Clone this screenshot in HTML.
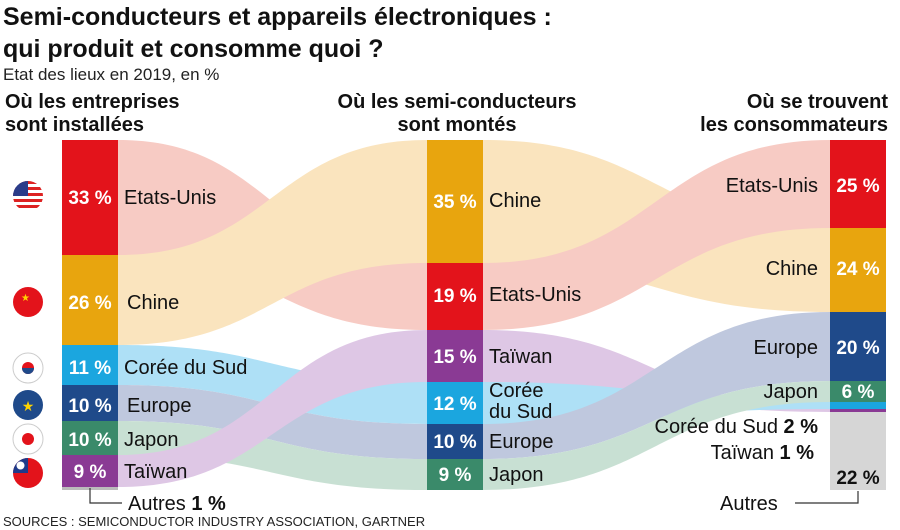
<!DOCTYPE html>
<html><head><meta charset="utf-8">
<style>
body{margin:0;background:#fff;}
svg{display:block;font-family:"Liberation Sans","DejaVu Sans",sans-serif;}
.t{font-weight:bold;font-size:25px;fill:#111;}
.h{font-weight:bold;font-size:20px;fill:#111;}
.n{font-size:20px;fill:#111;}
.p{font-size:19px;font-weight:bold;fill:#fff;}
</style></head><body>
<svg width="900" height="530" viewBox="0 0 900 530">
<rect width="900" height="530" fill="#fff"/>
<text class="t" x="3" y="25">Semi-conducteurs et appareils électroniques :</text>
<text class="t" x="3" y="57">qui produit et consomme quoi ?</text>
<text x="3" y="80" font-size="17" fill="#222">Etat des lieux en 2019, en %</text>
<text class="h" x="5" y="108">Où les entreprises</text>
<text class="h" x="5" y="131">sont installées</text>
<text class="h" x="457" y="108" text-anchor="middle">Où les semi-conducteurs</text>
<text class="h" x="457" y="131" text-anchor="middle">sont montés</text>
<text class="h" x="888" y="108" text-anchor="end">Où se trouvent</text>
<text class="h" x="888" y="131" text-anchor="end">les consommateurs</text>

<g opacity="0.55">
<!-- left->mid -->
<path d="M118 140 C272 140,272 263,427 263 L427 330 C272 330,272 255,118 255Z" fill="#f2a194"/>
<path d="M118 255 C272 255,272 140,427 140 L427 263 C272 263,272 345,118 345Z" fill="#f7cf8a"/>
<path d="M118 345 C272 345,272 382,427 382 L427 424 C272 424,272 385,118 385Z" fill="#6cc8ef"/>
<path d="M118 385 C272 385,272 424,427 424 L427 459 C272 459,272 421,118 421Z" fill="#8c9cc4"/>
<path d="M118 421 C272 421,272 459,427 459 L427 490 C272 490,272 455,118 455Z" fill="#9cc8b0"/>
<path d="M118 455 C272 455,272 330,427 330 L427 382 C272 382,272 487,118 487Z" fill="#c49ad0"/>
<!-- mid->right -->
<path d="M483 140 C656 140,656 228,830 228 L830 312 C656 312,656 263,483 263Z" fill="#f7cf8a"/>
<path d="M483 263 C656 263,656 140,830 140 L830 228 C656 228,656 330,483 330Z" fill="#f2a194"/>
<path d="M483 330 C656 330,656 409,830 409 L830 412 C656 412,656 382,483 382Z" fill="#c49ad0"/>
<path d="M483 382 C656 382,656 402,830 402 L830 409 C656 409,656 424,483 424Z" fill="#6cc8ef"/>
<path d="M483 424 C656 424,656 312,830 312 L830 381 C656 381,656 459,483 459Z" fill="#8c9cc4"/>
<path d="M483 459 C656 459,656 381,830 381 L830 402 C656 402,656 490,483 490Z" fill="#9cc8b0"/>
</g>

<!-- left bars -->
<rect x="62" y="140" width="56" height="115" fill="#e3131b"/>
<rect x="62" y="255" width="56" height="90" fill="#e8a50e"/>
<rect x="62" y="345" width="56" height="40" fill="#1ba6df"/>
<rect x="62" y="385" width="56" height="36" fill="#1f4a8a"/>
<rect x="62" y="421" width="56" height="34" fill="#3a8a6a"/>
<rect x="62" y="455" width="56" height="32" fill="#8a3a94"/>
<rect x="62" y="487" width="56" height="3" fill="#bbb"/>
<!-- mid bars -->
<rect x="427" y="140" width="56" height="123" fill="#e8a50e"/>
<rect x="427" y="263" width="56" height="67" fill="#e3131b"/>
<rect x="427" y="330" width="56" height="52" fill="#8a3a94"/>
<rect x="427" y="382" width="56" height="42" fill="#1ba6df"/>
<rect x="427" y="424" width="56" height="35" fill="#1f4a8a"/>
<rect x="427" y="459" width="56" height="31" fill="#3a8a6a"/>
<!-- right bars -->
<rect x="830" y="140" width="56" height="88" fill="#e3131b"/>
<rect x="830" y="228" width="56" height="84" fill="#e8a50e"/>
<rect x="830" y="312" width="56" height="69" fill="#1f4a8a"/>
<rect x="830" y="381" width="56" height="21" fill="#3a8a6a"/>
<rect x="830" y="402" width="56" height="7" fill="#1ba6df"/>
<rect x="830" y="409" width="56" height="3" fill="#8a3a94"/>
<rect x="830" y="412" width="56" height="78" fill="#d6d6d6"/>

<!-- left labels -->
<text class="p" x="90" y="204" text-anchor="middle">33 %</text><text class="n" x="124" y="204">Etats-Unis</text>
<text class="p" x="90" y="309" text-anchor="middle">26 %</text><text class="n" x="127" y="309">Chine</text>
<text class="p" x="90" y="374" text-anchor="middle">11 %</text><text class="n" x="124" y="374">Corée du Sud</text>
<text class="p" x="90" y="412" text-anchor="middle">10 %</text><text class="n" x="127" y="412">Europe</text>
<text class="p" x="90" y="446" text-anchor="middle">10 %</text><text class="n" x="124" y="446">Japon</text>
<text class="p" x="90" y="478" text-anchor="middle">9 %</text><text class="n" x="124" y="478">Taïwan</text>
<!-- mid labels -->
<text class="p" x="455" y="208" text-anchor="middle">35 %</text><text class="n" x="489" y="207">Chine</text>
<text class="p" x="455" y="302" text-anchor="middle">19 %</text><text class="n" x="489" y="301">Etats-Unis</text>
<text class="p" x="455" y="363" text-anchor="middle">15 %</text><text class="n" x="489" y="363">Taïwan</text>
<text class="p" x="455" y="410" text-anchor="middle">12 %</text><text class="n" x="489" y="397">Corée</text><text class="n" x="489" y="418">du Sud</text>
<text class="p" x="455" y="448" text-anchor="middle">10 %</text><text class="n" x="489" y="448">Europe</text>
<text class="p" x="455" y="481" text-anchor="middle">9 %</text><text class="n" x="489" y="481">Japon</text>
<!-- right labels -->
<text class="p" x="858" y="192" text-anchor="middle">25 %</text><text class="n" x="818" y="192" text-anchor="end">Etats-Unis</text>
<text class="p" x="858" y="275" text-anchor="middle">24 %</text><text class="n" x="818" y="275" text-anchor="end">Chine</text>
<text class="p" x="858" y="354" text-anchor="middle">20 %</text><text class="n" x="818" y="354" text-anchor="end">Europe</text>
<text class="p" x="858" y="398" text-anchor="middle">6 %</text><text class="n" x="818" y="398" text-anchor="end">Japon</text>
<text class="n" x="818" y="433" text-anchor="end">Corée du Sud <tspan font-weight="bold">2 %</tspan></text>
<text class="n" x="814" y="459" text-anchor="end">Taïwan <tspan font-weight="bold">1 %</tspan></text>
<text x="858" y="484" text-anchor="middle" font-size="19" font-weight="bold" fill="#111">22 %</text>

<!-- Autres brackets -->
<path d="M90 488 V503 H122" fill="none" stroke="#333" stroke-width="1.2"/>
<text class="n" x="128" y="510">Autres <tspan font-weight="bold">1 %</tspan></text>
<path d="M795 503 H858 V491" fill="none" stroke="#333" stroke-width="1.2"/>
<text class="n" x="720" y="510">Autres</text>

<text x="3" y="526" font-size="13" fill="#222">SOURCES : SEMICONDUCTOR INDUSTRY ASSOCIATION, GARTNER</text>

<!-- flags -->
<defs><clipPath id="c1"><circle cx="28" cy="196" r="15"/></clipPath></defs>
<g clip-path="url(#c1)">
<rect x="13" y="181" width="30" height="30" fill="#fff"/>
<rect x="13" y="181" width="30" height="3" fill="#d22"/><rect x="13" y="187" width="30" height="3" fill="#d22"/>
<rect x="13" y="193" width="30" height="3" fill="#d22"/><rect x="13" y="199" width="30" height="3" fill="#d22"/>
<rect x="13" y="205" width="30" height="3" fill="#d22"/>
<rect x="13" y="181" width="15" height="15" fill="#2a3c8a"/>
</g>
<circle cx="28" cy="302" r="15" fill="#e3131b"/><text x="21" y="301" font-size="10" fill="#ffd400">★</text>
<circle cx="28" cy="368" r="15" fill="#fff" stroke="#ccc"/><circle cx="28" cy="368" r="6" fill="#e3131b"/><path d="M22 368 a6 6 0 0 0 12 0Z" fill="#1f4a8a"/>
<circle cx="28" cy="405" r="15" fill="#1f4a8a"/><text x="28" y="411" font-size="14" fill="#ffd400" text-anchor="middle">★</text>
<circle cx="28" cy="439" r="15" fill="#fff" stroke="#ccc"/><circle cx="28" cy="439" r="6" fill="#e3131b"/>
<defs><clipPath id="c2"><circle cx="28" cy="473" r="15"/></clipPath></defs>
<g clip-path="url(#c2)"><rect x="13" y="458" width="30" height="30" fill="#e3131b"/><rect x="13" y="458" width="15" height="15" fill="#1f3a8a"/><circle cx="20.5" cy="465.5" r="4" fill="#fff"/></g>
</svg>
</body></html>
